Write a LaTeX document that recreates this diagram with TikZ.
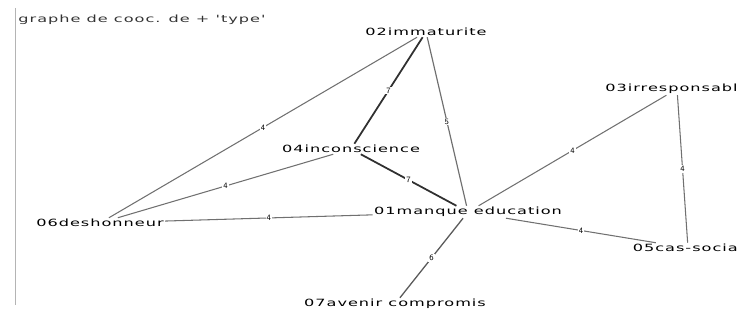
\documentclass[tikz,border=0pt]{standalone}
\usepackage{fontspec}
\newfontfamily\graphfont[FakeStretch=1.62, LetterSpace=10]{DejaVu Sans}
\definecolor{edgegray}{HTML}{707070}
\definecolor{edgedark}{HTML}{303030}
\definecolor{framegray}{HTML}{B4B4B4}
\usetikzlibrary{positioning}

\begin{document}
\begin{tikzpicture}[x=0.03cm, y=-0.03cm,
  term/.style={font=\graphfont\fontsize{8.5}{10}\selectfont, inner sep=1pt},
  lbl/.style={font=\sffamily\fontsize{7}{8}\selectfont, fill=white, inner sep=1pt},
  w4/.style={draw=edgegray, line width=0.9pt},
  w5/.style={draw=edgegray, line width=1pt},
  w6/.style={draw=edgegray!80!black, line width=1.1pt},
  w7/.style={draw=edgedark, line width=1.5pt}]
  \useasboundingbox (0,0) rectangle (737,321);
  \draw[framegray] (15,8) -- (15,305);
  % termes
  \node[term, anchor=west, text=black!80] (titre) at (17,20) {graphe de cooc. de + 'type'};
  \node[term] (imm) at (426,32) {02immaturite};
  \node[term] (inc) at (351,149) {04inconscience};
  \node[term] (irr) at (677,89) {03irresponsable};
  \node[term] (des) at (100,223) {06deshonneur};
  \node[term] (man) at (468,212) {01manque education};
  \node[term] (cas) at (688,248) {05cas-social};
  \node[term] (ave) at (395,304) {07avenir compromis};
  % liens
  \foreach \a/\b/\w in {imm/des/4, imm/inc/7, imm/man/5, inc/des/4, inc/man/7,
    des/man/4, irr/man/4, irr/cas/4, man/cas/4, man/ave/6}
    \draw[w\w] (\a) -- node[lbl] {\w} (\b);
\end{tikzpicture}
\end{document}
